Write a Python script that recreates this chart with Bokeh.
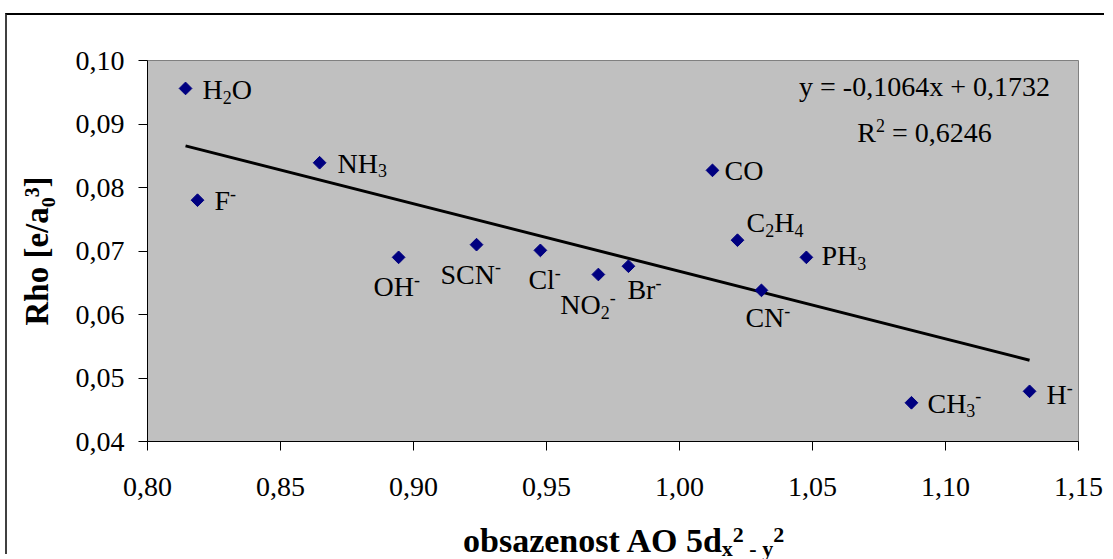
import numpy as np
from bokeh.plotting import figure
from bokeh.layouts import column
from bokeh.models import ColumnDataSource, Range1d, FixedTicker, Label, Div
from bokeh.core.properties import value
from bokeh.embed import file_html
from bokeh.resources import INLINE

# ---------------- data ----------------
ligands = ["H_2O", "F^-", "NH_3", "OH^-", "SCN^-", "Cl^-", "NO_2^-", "Br^-",
           "CO", "C_2H_4", "PH_3", "CN^-", "CH_3^-", "H^-"]
occupancy = [0.8143, 0.8188, 0.8647, 0.8944, 0.9237, 0.9477, 0.9695, 0.9808,
             1.0124, 1.0218, 1.0477, 1.0308, 1.0872, 1.1316]
rho = [0.0956, 0.0780, 0.0839, 0.0690, 0.0710, 0.0701, 0.0663, 0.0676,
       0.0827, 0.0717, 0.0690, 0.0638, 0.0461, 0.0479]
x_ticks = [0.80, 0.85, 0.90, 0.95, 1.00, 1.05, 1.10, 1.15]
x_tick_labels = ["0,80", "0,85", "0,90", "0,95", "1,00", "1,05", "1,10", "1,15"]
y_ticks = [0.04, 0.05, 0.06, 0.07, 0.08, 0.09, 0.10]
y_tick_labels = ["0,04", "0,05", "0,06", "0,07", "0,08", "0,09", "0,10"]
slope = -0.1064
intercept = 0.1732
r_squared = 0.6246
y_title = "Rho [e/a\u2080\u00b3]"
x_title_main = "obsazenost AO 5d"
x_title_parts = [("x", "sub"), ("2", "sup"), (" - y", "sub"), ("2", "sup")]

# label placement (pixels): start of text relative to point, baseline below point
label_dx = [17, 17, 18, -25, -36, -12, -38, -1, 12, 9, 15, -16, 16, 17]
label_dy = [11, 10, 10, 39, 39, 39, 40, 33, 10, -8, 8, 37, 10, 13]

FONT = "Liberation Serif"
FS = 28      # normal text
TFS = 33     # axis titles (bold)
MID = 0.34   # anchor-to-baseline correction (em)

W_REG = {" ": .25, ",": .25, "-": .333, "=": .564, "+": .564, "x": .5, "y": .5,
         "R": .667, "H": .722, "O": .722, "N": .722, "F": .556, "C": .667,
         "S": .556, "l": .278, "B": .667, "r": .333, "P": .556}


def parse(markup):
    segs = []
    i = 0
    while i < len(markup):
        c = markup[i]
        if c in "_^":
            segs.append((markup[i + 1], "b" if c == "_" else "p"))
            i += 2
        else:
            if segs and segs[-1][1] == "n":
                segs[-1] = (segs[-1][0] + c, "n")
            else:
                segs.append((c, "n"))
            i += 1
    return segs


def layout(spec, size, sub_shift=0.14, sup_shift=0.4):
    out, adv = [], 0.0
    small = round(size * 0.65)
    for text, kind in spec:
        if kind == "n":
            fs, shift = size, 0
        elif kind == "b":
            fs, shift = small, -round(size * sub_shift)
        else:
            fs, shift = small, round(size * sup_shift)
        w = sum(W_REG.get(ch, 0.5) for ch in text) * fs
        lead = len(text) - len(text.lstrip(" "))
        out.append((text.lstrip(" "), adv + lead * W_REG[" "] * fs, shift, fs))
        adv += w
    return out, adv


# ---------------- figure ----------------
p = figure(width=1097, height=509, x_range=Range1d(0.80, 1.15), y_range=Range1d(0.04, 0.10),
           output_backend="svg", toolbar_location=None,
           min_border_left=140, min_border_top=45, min_border_right=26, min_border_bottom=83,
           background_fill_color="#C0C0C0", border_fill_color="white",
           outline_line_color="#808080", outline_line_width=1)
p.xgrid.visible = False
p.ygrid.visible = False

for ax, ticks, labels, standoff in ((p.xaxis[0], x_ticks, x_tick_labels, 27),
                                    (p.yaxis[0], y_ticks, y_tick_labels, 14)):
    ax.ticker = FixedTicker(ticks=ticks)
    ax.major_label_overrides = dict(zip(ticks, labels))
    ax.major_label_text_font = FONT
    ax.major_label_text_font_size = f"{FS}px"
    ax.major_label_text_color = "black"
    ax.major_label_standoff = standoff
    ax.major_tick_in = 0
    ax.major_tick_out = 9
    ax.major_tick_line_color = "black"
    ax.minor_tick_line_color = None
    ax.axis_line_color = "black"
    ax.axis_line_width = 1

# y axis title (rotated by the axis itself)
p.yaxis.axis_label = y_title
p.yaxis.axis_label_text_font = FONT
p.yaxis.axis_label_text_font_size = f"{TFS}px"
p.yaxis.axis_label_text_font_style = "bold"
p.yaxis.axis_label_text_color = "black"
p.yaxis.axis_label_standoff = 18

# trend line
xs = np.array([min(occupancy), max(occupancy)])
p.line(xs, slope * xs + intercept, line_color="black", line_width=3)

# markers
p.scatter(occupancy, rho, marker="square", angle=np.pi / 4, size=9,
          fill_color="#000080", line_color="#000080")

# data labels (segmented for sub/superscripts)
seg = dict(x=[], y=[], text=[], dx=[], dy=[], size=[])
for name, xv, yv, dx, dy in zip(ligands, occupancy, rho, label_dx, label_dy):
    parts, _ = layout(parse(name), FS)
    for text, start, shift, fs in parts:
        seg["x"].append(xv)
        seg["y"].append(yv)
        seg["text"].append(text)
        seg["dx"].append(dx + start)
        seg["dy"].append(dy - shift - MID * fs)
        seg["size"].append(f"{fs}px")
p.text(x="x", y="y", text="text", x_offset="dx", y_offset="dy", text_font_size="size",
       text_font=value(FONT), text_color="black", text_align="left",
       text_baseline="alphabetic", source=ColumnDataSource(seg))

X0, Y0 = 0.80, 0.04   # frame bottom-left anchor


def add_segments(spec, size, dx, dy_up, center=False):
    parts, total = layout(spec, size)
    if center:
        dx -= total / 2
    for text, start, shift, fs in parts:
        p.add_layout(Label(x=X0, y=Y0, x_offset=dx + start, y_offset=dy_up + shift + MID * fs,
                           text=text, text_font=FONT, text_font_size=f"{fs}px",
                           text_color="black", text_align="left",
                           text_baseline="alphabetic"))


def fmt(v, nd):
    return f"{abs(v):.{nd}f}".replace(".", ",")


eq1 = f"y = {'-' if slope < 0 else ''}{fmt(slope, 4)}x + {fmt(intercept, 4)}"
add_segments([(eq1, "n")], FS, 777, 345, center=True)
add_segments([("R", "n"), ("2", "p"), (f" = {fmt(r_squared, 4)}", "n")], FS, 777, 299,
             center=True)

# x axis title as HTML with real sub/superscripts
shift_px = {"sub": 4, "sup": -10}
pieces = "".join(
    f'<span style="font-size:22px;position:relative;top:{shift_px[k]}px;">{t.replace(" ", "&nbsp;")}</span>'
    for t, k in x_title_parts)
title_html = (f'<div style="position:relative;left:456px;white-space:nowrap;'
              f'font-family:\'{FONT}\';font-weight:bold;font-size:34px;line-height:33px;'
              f'color:black;">{x_title_main}{pieces}</div>')
xtitle = Div(text=title_html, width=1097, height=30, margin=(0, 0, 0, 0))

root = column(p, xtitle, margin=(13, 0, 0, 5), spacing=0)
root.styles = {"border-left": "2px solid #404040", "border-top": "2px solid #000000"}

open("out.html", "w").write(file_html(root, INLINE))
